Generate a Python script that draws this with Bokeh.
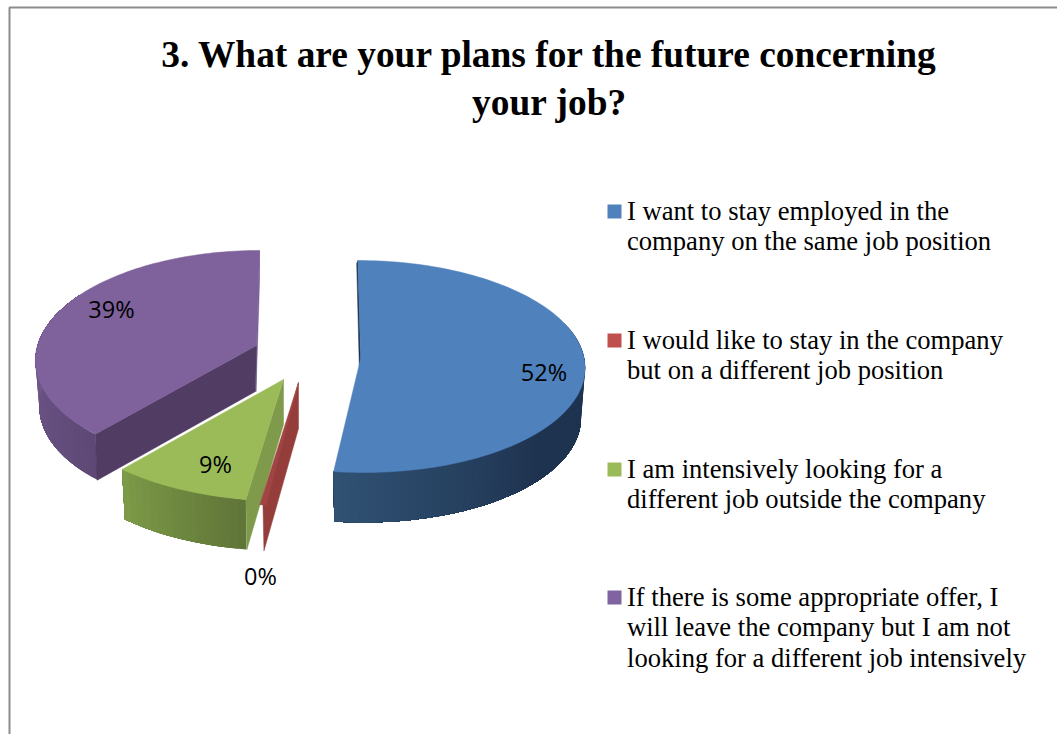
import math
from bokeh.plotting import figure
from bokeh.models import Range1d
from bokeh.core.properties import value as V
from bokeh.embed import file_html
from bokeh.resources import INLINE

# ---- data
categories = [
    ["I want to stay employed in the", "company on the same job position"],
    ["I would like to stay in the company", "but on a different job position"],
    ["I am intensively looking for a", "different job outside the company"],
    ["If there is some appropriate offer, I", "will leave the company but I am not", "looking for a different job intensively"],
]
shares = [52.0, 0.4, 9.0, 38.6]
title_lines = ["3. What are your plans for the future concerning", "your job?"]

# ---- styling / layout
top_col = ["#4F81BD", "#A04543", "#9BBB59", "#7F619C"]
legend_col = ["#4F81BD", "#C0504D", "#9BBB59", "#8064A2"]
wall_from = [(0x1E, 0x33, 0x4F), (0x95, 0x3D, 0x3B), (0x60, 0x75, 0x38), (0x5E, 0x49, 0x76)]
wall_to = [(0x31, 0x52, 0x75), (0x95, 0x3D, 0x3B), (0x7E, 0x9C, 0x48), (0x70, 0x57, 0x8A)]
# apex x, apex y, rx, ry, perspective k, skew c, depth
geom = [
    (360.2, 358, 223.5, 105.4, 0.0755, -3.0, 50),
    (298, 382, 240, 115, 0.07, 0, 46),
    (283, 379, 233, 113, 0.07, 0, 50),
    (256, 345, 219, 106.7, 0.123, 3.4, 46),
]
label_pos = [(543.5, 371), (260, 575), (215, 463), (111, 308)]
BORDER = "#8C8C8C"

p = figure(width=1057, height=734, output_backend="svg", toolbar_location=None,
           x_range=Range1d(0, 1057), y_range=Range1d(734, 0),
           min_border=0, outline_line_color=None, background_fill_color="white",
           border_fill_color="white")
p.xaxis.visible = False
p.yaxis.visible = False
p.grid.visible = False


def rim(g, deg):
    ax, ay, rx, ry, k, c, d = g
    t = math.radians(deg)
    u, v = math.sin(t), math.cos(t)
    s = 1 / (1 + k * v)
    return ax + (rx * u + c * v) * s, ay - ry * v * s


def bottom(g, deg):
    ax, ay, rx, ry, k, c, d = g
    x, y = rim(g, deg)
    return ax + (x - ax) * 0.982, y + d


def arc(a, b, n):
    return [a + (b - a) * i / n for i in range(n + 1)]


def poly(xs, ys, color):
    p.patch(xs, ys, fill_color=color, line_color=color, line_width=0.5)


def hexc(c):
    return "#%02X%02X%02X" % tuple(int(round(q)) for q in c)


# cumulative angles
starts, acc = [], 0.0
for sh in shares:
    starts.append(acc)
    acc += sh
angles = [(s * 3.6, (s + sh) * 3.6) for s, sh in zip(starts, shares)]

# outer walls: bands painted from far to near, each band reaching to the end of the wall,
# so that no seams show between neighbouring shades
visible = [(70.0, angles[0][1]), None, angles[2], (angles[3][0], 300.0)]
shade_span = [(100.0, 187.0), None, angles[2], (angles[3][0], 270.0)]
for i in [3, 0, 2]:
    g = geom[i]
    a, b = visible[i]
    n = max(2, int((b - a) / 2.0))
    th = arc(a, b, n)
    sa, sb = shade_span[i]
    cf, ct = wall_from[i], wall_to[i]
    for t0 in th[:-1]:
        f = min(1, max(0, (t0 - sa) / (sb - sa)))
        if i == 0:
            f = min(1, max(0, (f - 0.35) / 0.65))
        col = hexc([cf[j] + (ct[j] - cf[j]) * f for j in range(3)])
        rest = [q for q in th if q >= t0]
        top_pts = [rim(g, q) for q in rest]
        bot_pts = [bottom(g, q) for q in reversed(rest)]
        pts = top_pts + bot_pts
        p.patch([q[0] for q in pts], [q[1] for q in pts], fill_color=col, line_color=None)

# inner faces
g = geom[3]
ax, ay = g[0], g[1]
x, y = rim(g, 360.0)
poly([x, x, ax - 0.5, ax], [y, y + 30, ay + g[6], ay], "#70588F")
x, y = rim(g, angles[3][0])
poly([ax, x, x + 2, ax - 1], [ay, y, y + g[6], ay + g[6]], "#513D63")

g = geom[2]
ax, ay = g[0], g[1]
x, y = rim(g, angles[2][0])
poly([ax, ax, x + 1, x], [ay, ay + 45, y + g[6], y], "#7F9A4A")

g = geom[0]
ax, ay = g[0], g[1]
x, y = rim(g, 0.0)
poly([x, ax, ax - 1.4, x - 1.2], [y, ay, ay + 8, y + 3], "#1E334F")

g = geom[1]
ax, ay = g[0], g[1]
x, y = rim(g, sum(angles[1]) / 2)
poly([ax, ax, x + 1, x], [ay, ay + g[6], y + g[6], y], hexc(wall_from[1]))

# tops
for i in [3, 0, 2, 1]:
    g = geom[i]
    a, b = angles[i]
    pts = [rim(g, t) for t in arc(a, b, max(2, int((b - a) / 1.5)))]
    xs = [g[0]] + [q[0] for q in pts]
    ys = [g[1]] + [q[1] for q in pts]
    poly(xs, ys, top_col[i])

# data labels
for (lx, ly), sh in zip(label_pos, shares):
    p.text([lx], [ly], text=[f"{round(sh)}%"], text_font=V("Open Sans"), text_font_size="23.5px",
           text_align="center", text_baseline="middle", text_color="#000000")

# title
for line, ty in zip(title_lines, [54, 102]):
    p.text([549], [ty], text=[line], text_font=V("Liberation Serif"), text_font_style="bold",
           text_font_size="37.4px", text_align="center", text_baseline="middle", text_color="#000000")

# legend
row_y = [211, 340, 469, 597]
for i, lines in enumerate(categories):
    p.quad(left=[607], right=[621], top=[row_y[i] - 7], bottom=[row_y[i] + 7],
           fill_color=legend_col[i], line_color=None)
    for j, line in enumerate(lines):
        p.text([626.5], [row_y[i] - 1 + j * 30.5], text=[line], text_font=V("Liberation Serif"),
               text_font_size="26.6px", text_align="left", text_baseline="middle", text_color="#000000")

# frame (left and top only)
p.line([9, 9, 1057], [734, 7, 7], line_color=BORDER, line_width=2)

open("out.html", "w").write(file_html(p, INLINE))
